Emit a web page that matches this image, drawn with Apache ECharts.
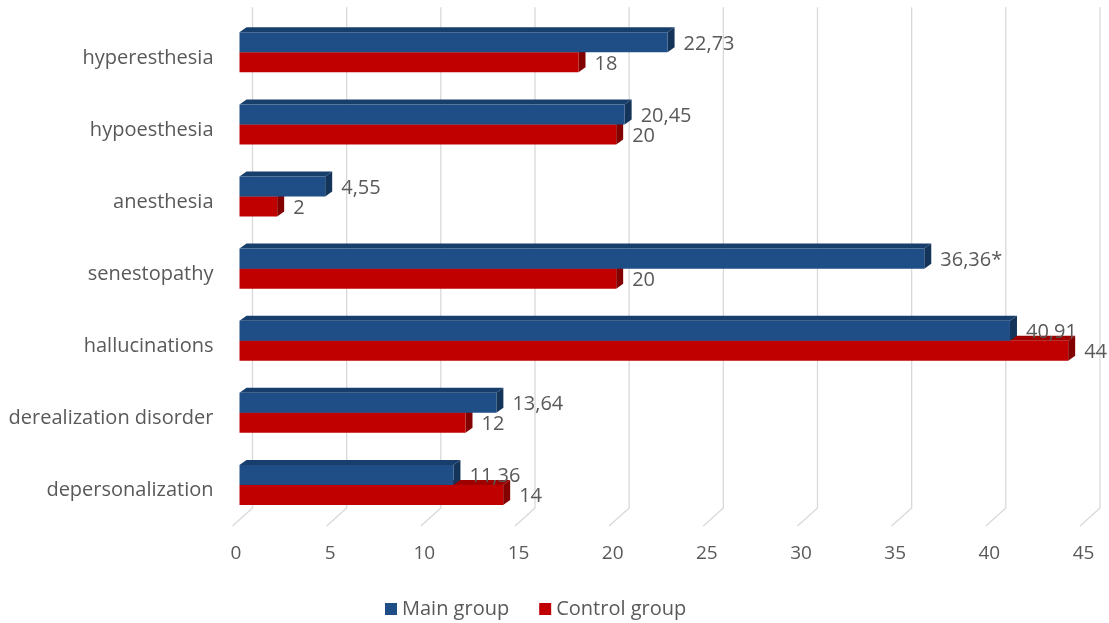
<!DOCTYPE html>
<html>
<head>
<meta charset="utf-8">
<script src="https://cdn.jsdelivr.net/npm/echarts@6/dist/echarts.min.js"></script>
<style>
html,body{margin:0;padding:0;background:#fff;}
#chart{width:1109px;height:623px;}
</style>
</head>
<body>
<div id="chart"></div>
<script>
// ---- data ----
const categories = ['hyperesthesia','hypoesthesia','anesthesia','senestopathy','hallucinations','derealization disorder','depersonalization'];
const mainGroup = [22.73, 20.45, 4.55, 36.36, 40.91, 13.64, 11.36];
const controlGroup = [18, 20, 2, 20, 44, 12, 14];
const mainMarks = ['', '', '', '*', '', '', ''];
const controlMarks = ['', '', '', '', '', '', ''];
const xTicks = [0, 5, 10, 15, 20, 25, 30, 35, 40, 45];

// ---- styles ----
const FONT = '"Open Sans", "Noto Sans", sans-serif';
const TXT = '#595959';
const DX = 7, DY = -5;            // bar depth
const GDX = 13, GDY = -9;         // back wall offset
const FRONT = { main: ['#1f4e87', '#183e6b', '#143459'], control: ['#c00000', '#9e0000', '#830000'] };

function fmt(v, mark) { return String(v).replace('.', ',') + mark; }

function barRenderer(which, marks) {
  const cols = FRONT[which];
  return function (params, api) {
    const v = api.value(0), idx = api.value(1);
    const end = api.coord([v, idx]);
    const start = api.coord([0, idx]);
    const band = api.size([0, 1])[1];
    const th = band * 0.2775;
    const top = which === 'main' ? end[1] - th : end[1];
    const bot = top + th;
    const x0 = start[0], xe = end[0];
    return {
      type: 'group',
      children: [
        { type: 'polygon', shape: { points: [[x0, top], [x0 + DX, top + DY], [xe + DX, top + DY], [xe, top]] }, style: { fill: cols[1] } },
        { type: 'polygon', shape: { points: [[xe, top], [xe + DX, top + DY], [xe + DX, bot + DY], [xe, bot]] }, style: { fill: cols[2] } },
        { type: 'rect', shape: { x: x0, y: top, width: xe - x0, height: th }, style: { fill: cols[0] } },
        { type: 'text', x: xe + 16, y: (top + bot) / 2 + 1.5, style: { text: fmt(v, marks[params.dataIndex]), fill: TXT, font: '20px ' + FONT, textVerticalAlign: 'middle', textAlign: 'left' } }
      ]
    };
  };
}

function gridRenderer(params, api) {
  const v = api.value(0);
  const cs = params.coordSys;
  const x = api.coord([v, 0])[0];
  const yTop = cs.y + GDY;
  const yBack = cs.y + cs.height - 13;
  const yFront = cs.y + cs.height + 5;
  return {
    type: 'polyline',
    shape: { points: [[x + GDX, yTop], [x + GDX, yBack], [x - 7, yFront]] },
    style: { stroke: '#d9d9d9', lineWidth: 1.3, fill: null }
  };
}

const chart = echarts.init(document.getElementById('chart'), null, { renderer: 'canvas' });
chart.setOption({
  animation: false,
  backgroundColor: '#ffffff',
  textStyle: { fontFamily: FONT },
  grid: { left: 239.5, right: 22, top: 16.25, bottom: 102, containLabel: false },
  xAxis: {
    type: 'value', min: 0, max: 45, interval: 5,
    axisLine: { show: false }, axisTick: { show: false }, splitLine: { show: false },
    axisLabel: { color: TXT, fontSize: 19, fontFamily: FONT, margin: 23, padding: [0, 7, 0, 0],
      formatter: function (val) { return xTicks.indexOf(val) >= 0 ? String(val) : ''; } }
  },
  yAxis: {
    type: 'category', data: categories, inverse: true,
    axisLine: { show: false }, axisTick: { show: false }, splitLine: { show: false },
    axisLabel: { color: TXT, fontSize: 20, fontFamily: FONT, margin: 26, verticalAlign: 'top', lineHeight: 11 }
  },
  legend: {
    left: 380, top: 594, itemWidth: 12, itemHeight: 12, itemGap: 30, icon: 'rect',
    textStyle: { color: TXT, fontSize: 20, fontFamily: FONT },
    data: ['Main group', 'Control group']
  },
  series: [
    { type: 'custom', name: 'grid', silent: true, z: 1, renderItem: gridRenderer,
      data: xTicks.map(t => [t]), encode: { x: 0 } },
    { type: 'custom', name: 'Control group', z: 2, itemStyle: { color: '#c00000' },
      renderItem: barRenderer('control', controlMarks),
      data: controlGroup.map((v, i) => [v, i]), encode: { x: 0, y: 1 } },
    { type: 'custom', name: 'Main group', z: 3, itemStyle: { color: '#1f4e87' },
      renderItem: barRenderer('main', mainMarks),
      data: mainGroup.map((v, i) => [v, i]), encode: { x: 0, y: 1 } }
  ]
});
</script>
</body>
</html>
